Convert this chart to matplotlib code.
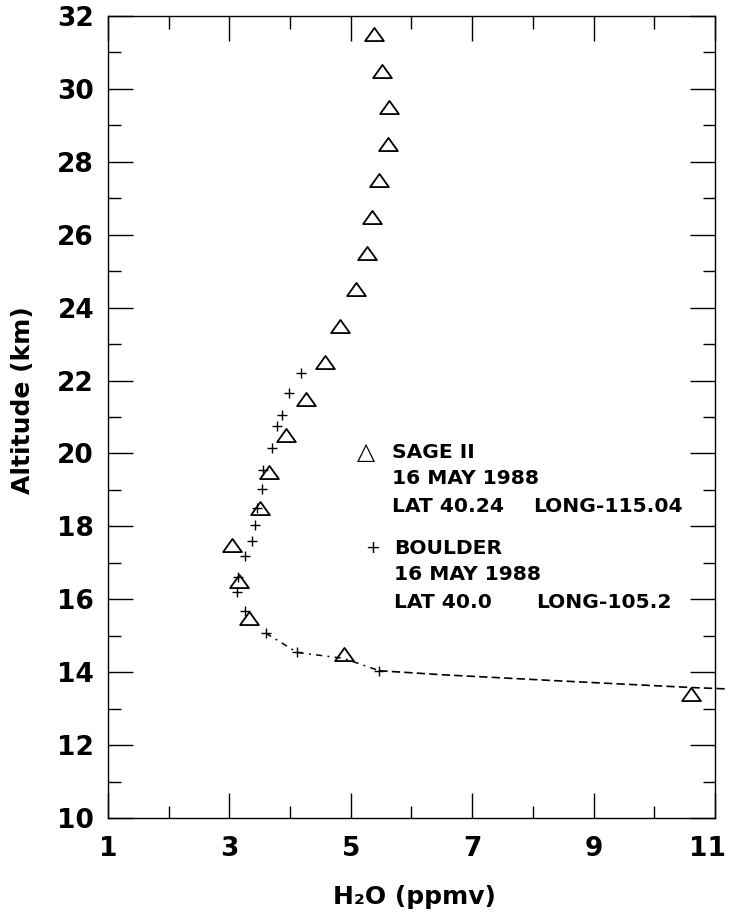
import matplotlib
matplotlib.use("Agg")
import matplotlib.pyplot as plt
import matplotlib.transforms as mtransforms
from matplotlib.path import Path

plt.rcParams['font.family'] = ['DejaVu Sans']
plt.rcParams['font.weight'] = 'bold'

# SAGE II profile (ppmv, km)
sage_h2o = [5.38, 5.52, 5.63, 5.61, 5.47, 5.35, 5.26, 5.08, 4.82, 4.57,
            4.26, 3.94, 3.66, 3.50, 3.05, 3.15, 3.32, 4.88, 10.60]
sage_alt = [31.5, 30.5, 29.5, 28.5, 27.5, 26.5, 25.5, 24.5, 23.5, 22.5,
            21.5, 20.5, 19.5, 18.5, 17.5, 16.5, 15.5, 14.5, 13.4]

# Boulder balloon profile
boulder_h2o = [4.18, 3.98, 3.87, 3.79, 3.70, 3.56, 3.53, 3.45, 3.42, 3.38,
               3.26, 3.14, 3.12, 3.25, 3.60, 4.12, 5.47]
boulder_alt = [22.2, 21.66, 21.06, 20.75, 20.14, 19.55, 19.02, 18.5, 18.04, 17.6,
               17.19, 16.6, 16.19, 15.68, 15.07, 14.54, 14.04]

# dashed curve through the tropopause region
curve_h2o = [3.60, 4.12, 4.88, 5.47]
curve_alt = [15.07, 14.54, 14.38, 14.04]
tail_h2o = [5.47, 6.5, 8.45, 10.6, 11.21]
tail_alt = [14.04, 13.93, 13.76, 13.58, 13.54]

tri = Path([(-1, -0.7), (1, -0.7), (0, 0.7), (-1, -0.7)],
           [Path.MOVETO, Path.LINETO, Path.LINETO, Path.CLOSEPOLY])

fig = plt.figure(figsize=(7.3, 9.16), dpi=100)
ax = fig.add_axes([108/730, 98/916, 607/730, 802/916])

ax.plot(curve_h2o, curve_alt, color='black', lw=1.1, dashes=(4, 3.5, 1.2, 3.5))
ax.plot(tail_h2o, tail_alt, color='black', lw=1.2, dashes=(5, 2.5), clip_on=False)
ax.plot(sage_h2o, sage_alt, ls='none', marker=tri, ms=13.5, mfc='none',
        mec='black', mew=1.3)
ax.plot(boulder_h2o, boulder_alt, ls='none', marker='+', ms=6.5, mec='black', mew=1.0)

ax.set_xlim(1, 11)
ax.set_ylim(10, 32)
ax.set_xticks(range(1, 12, 2))
ax.set_xticks(range(2, 11, 2), minor=True)
ax.set_yticks(range(10, 33, 2))
ax.set_yticks(range(11, 32, 2), minor=True)
ax.tick_params(which='both', direction='in', top=True, right=True, width=1.0)
ax.tick_params(which='major', length=18)
ax.tick_params(which='minor', length=9)
ax.tick_params(axis='x', which='major', pad=13, labelsize=19)
ax.tick_params(axis='y', which='major', pad=10, labelsize=19)
for sp in ax.spines.values():
    sp.set_linewidth(1.0)

# keep the "11" label inside the canvas
last = ax.xaxis.get_major_ticks()[-1].label1
last.set_transform(last.get_transform() +
                   mtransforms.ScaledTranslation(-7/100, 0, fig.dpi_scale_trans))

fig.text(23/730, 1 - 400/916, 'Altitude (km)', rotation=90, ha='center',
         va='center', fontsize=18)
fig.text(414/730, 1 - 897/916, 'H\u2082O (ppmv)', ha='center', va='center',
         fontsize=18)

# legend block
def ax_xy(px, py):
    return (px - 108) / 607, (818 - py) / 802

legend_lines = [
    (392, 452, 'SAGE II'), (392, 479, '16 MAY 1988'), (392, 507, 'LAT 40.24'),
    (533, 507, 'LONG-115.04'),
    (394, 548, 'BOULDER'), (394, 575, '16 MAY 1988'), (394, 603, 'LAT 40.0'),
    (536, 603, 'LONG-105.2'),
]
for px, py, s in legend_lines:
    x, y = ax_xy(px, py)
    ax.text(x, y, s, transform=ax.transAxes, ha='left', va='center', fontsize=14.6)
x, y = ax_xy(366, 452)
ax.text(x, y, '\u25b3', transform=ax.transAxes, ha='center', va='center',
        fontsize=17, fontweight='normal')
x, y = ax_xy(373, 548)
ax.text(x, y, '+', transform=ax.transAxes, ha='center', va='center', fontsize=13,
        fontweight='normal')

fig.savefig('out.png', dpi=100)
